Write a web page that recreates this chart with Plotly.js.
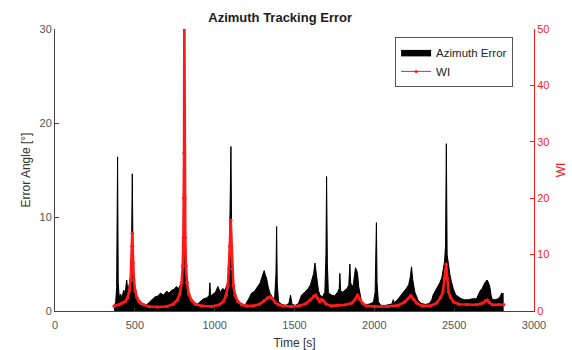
<!DOCTYPE html>
<html>
<head>
<meta charset="utf-8">
<script src="https://cdn.plot.ly/plotly-3.0.1.min.js"></script>
<style>html,body{margin:0;padding:0;background:#fff;}#chart{width:572px;height:350px;}</style>
</head>
<body>
<div id="chart"></div>
<script>
// Azimuth error [deg] vs time [s]
const errTime = [370,375,380,386,392,396,402,410,420,430,440,449,455,462,470,478,484,490,496,505,515,530,550,570,590,610,626,645,660,680,700,715,730,745,760,775,783,795,803,810,817,826,840,855,870,890,910,930,950,965,970,975,990,1005,1020,1035,1050,1064,1078,1090,1096,1102,1108,1116,1125,1140,1160,1190,1210,1231,1250,1272,1285,1294,1303,1310,1318,1325,1335,1346,1360,1375,1384,1388,1392,1400,1420,1445,1465,1475,1485,1505,1525,1544,1565,1586,1600,1611,1620,1628,1634,1640,1650,1659,1675,1690,1697,1701,1706,1712,1730,1750,1770,1780,1784,1789,1800,1815,1830,1840,1847,1852,1860,1868,1876,1882,1890,1895,1902,1910,1920,1935,1960,1980,1995,2005,2010,2013,2017,2025,2040,2070,2100,2112,2118,2125,2145,2170,2185,2200,2215,2225,2233,2240,2254,2275,2295,2320,2345,2360,2368,2385,2400,2410,2422,2431,2440,2446,2451,2456,2463,2473,2483,2494,2510,2525,2545,2565,2590,2615,2640,2661,2675,2692,2707,2715,2723,2732,2740,2755,2776,2790,2797,2805,2810];
const errValue = [0.3,0.6,1.0,2.5,16.4,3.0,1.5,1.8,1.5,2.2,2.0,3.3,2.4,2.6,3.2,4.5,14.6,4.0,2.0,1.4,1.0,0.7,0.5,0.6,0.9,1.3,1.5,1.6,1.9,1.7,2.1,1.9,2.2,2.3,2.6,2.4,2.7,3.2,5.1,8.0,5.0,2.5,1.5,1.0,0.7,0.7,1.0,1.3,1.4,1.6,3.0,1.6,1.8,2.0,2.6,2.0,2.4,2.2,2.8,4.5,10.5,17.5,5.0,2.5,1.4,1.0,0.7,0.6,1.2,1.9,2.1,2.6,3.0,3.5,3.9,4.3,3.8,3.5,2.6,1.9,1.5,1.2,4.0,9.0,3.0,1.0,0.7,0.6,0.8,1.7,0.7,0.6,0.8,1.7,2.0,2.4,2.8,3.5,4.0,5.1,3.8,3.5,2.2,1.7,1.5,2.0,6.0,14.3,5.0,2.0,1.7,1.6,2.0,2.4,4.0,2.2,2.0,2.2,2.4,2.8,5.0,3.0,2.6,2.8,3.6,4.6,4.3,4.0,2.6,1.7,1.0,0.7,0.7,0.8,1.0,2.0,6.0,9.4,3.0,1.0,0.6,0.6,0.7,0.8,1.2,0.9,1.2,1.7,2.0,2.4,2.8,3.6,4.7,3.4,2.0,1.1,0.8,0.7,0.8,1.2,1.7,2.2,2.7,3.0,3.5,4.3,5.3,7.0,17.8,6.0,5.0,3.9,3.1,2.4,1.7,1.5,1.3,1.2,1.2,1.3,1.3,2.1,2.4,3.0,3.3,3.0,2.6,1.6,1.2,1.2,1.3,1.6,1.9,1.8,1.9];

// WI vs time [s]
const wiTime = [370,400,420,440,455,466,474,479,482,484,486,489,494,502,513,530,555,590,640,700,740,765,782,793,800,804,807,808.5,810,811.5,813,816,820,827,838,855,880,920,980,1030,1055,1072,1083,1090,1095,1100,1105,1110,1117,1128,1145,1170,1200,1240,1280,1310,1330,1346,1362,1380,1400,1430,1480,1530,1570,1600,1620,1632,1645,1657,1669,1680,1700,1730,1770,1820,1860,1878,1895,1910,1925,1950,2000,2080,2150,2190,2212,2229,2245,2265,2300,2350,2390,2415,2430,2440,2450,2457,2465,2477,2497,2530,2580,2640,2680,2697,2707,2720,2740,2780,2810];
const wiValue = [0.9,1.1,1.4,1.7,2.4,3.6,5.5,8.5,11.5,13.8,11.5,8.5,5.5,3.6,2.4,1.6,1.1,0.8,0.7,0.8,1.2,1.9,3.0,5.0,8.0,13,20,28,50,28,20,13,8.0,5.0,3.0,1.9,1.2,0.9,0.8,1.1,1.7,2.8,4.5,7.5,11.5,16.1,11.5,7.5,4.5,2.8,1.7,1.1,0.9,0.9,1.2,1.8,2.3,2.5,2.2,1.5,1.1,0.9,0.8,0.9,1.3,2.0,2.6,2.8,2.2,1.7,2.0,1.8,1.2,0.9,1.0,1.1,1.4,2.0,2.8,2.0,1.4,0.9,0.8,0.8,1.0,1.6,2.2,2.7,2.1,1.4,0.9,0.9,1.4,2.4,3.4,5.8,8.3,5.8,3.4,2.4,1.6,1.2,1.1,1.1,1.4,1.8,1.9,1.5,1.1,1.1,1.1];

const seriesNames = ['Azimuth Error', 'WI'];
const xTickVals = [0,500,1000,1500,2000,2500,3000];
const yLeftTicks = [0,10,20,30];
const yRightTicks = [0,10,20,30,40,50];

const FONT = 'Liberation Sans, Arial, sans-serif';
const GRAY = '#555555';
const RED = '#ff1a1a';

const traces = [
  {
    x: errTime, y: errValue, name: seriesNames[0], type: 'scatter', mode: 'lines',
    fill: 'tozeroy', fillcolor: '#000000', line: {color: '#000000', width: 1},
    xaxis: 'x', yaxis: 'y', showlegend: false
  },
  {
    x: wiTime, y: wiValue, name: seriesNames[1], type: 'scatter', mode: 'lines+markers',
    line: {color: RED, width: 2.6}, marker: {color: RED, size: 3.5},
    xaxis: 'x', yaxis: 'y2', showlegend: false
  },
  // legend-only entries (thin styles like the reference key)
  {
    x: [null], y: [null], name: seriesNames[0], type: 'scatter', mode: 'lines',
    fill: 'tozeroy', fillcolor: '#000000', line: {color: '#000000', width: 1},
    xaxis: 'x', yaxis: 'y', showlegend: true
  },
  {
    x: [null], y: [null], name: seriesNames[1], type: 'scatter', mode: 'lines+markers',
    line: {color: RED, width: 1}, marker: {color: RED, size: 3},
    xaxis: 'x', yaxis: 'y2', showlegend: true
  }
];

const layout = {
  width: 572, height: 350,
  margin: {l: 55, r: 38, t: 29, b: 39},
  paper_bgcolor: '#ffffff', plot_bgcolor: '#ffffff',
  font: {family: FONT, size: 11, color: GRAY},
  showlegend: true,
  title: {text: 'Azimuth Tracking Error', font: {family: FONT, size: 13, color: '#1a1a1a', weight: 'bold'},
          x: 0.47, xref: 'paper', xanchor: 'center', y: 0.951, yref: 'container', yanchor: 'middle'},
  xaxis: {
    range: [0, 3000], tickvals: xTickVals, ticktext: xTickVals.map(String),
    showline: true, linecolor: '#444', linewidth: 1, mirror: false,
    ticks: 'inside', ticklen: 3, tickcolor: '#444',
    showgrid: false, zeroline: false, automargin: false,
    tickfont: {size: 11, color: GRAY}, ticklabelstandoff: 4,
    title: {text: 'Time [s]', font: {size: 12, color: '#333'}, standoff: 8}
  },
  yaxis: {
    range: [0, 30], tickvals: yLeftTicks, ticktext: yLeftTicks.map(String),
    showline: true, linecolor: '#444', linewidth: 1,
    ticks: 'inside', ticklen: 4, tickcolor: '#444',
    showgrid: false, zeroline: false, automargin: false,
    tickfont: {size: 11, color: GRAY},
    title: {text: 'Error Angle [°]', font: {size: 12, color: '#333'}, standoff: 6}
  },
  yaxis2: {
    overlaying: 'y', side: 'right', anchor: 'x',
    range: [0, 50], tickvals: yRightTicks, ticktext: yRightTicks.map(String),
    showline: true, linecolor: RED, linewidth: 1,
    ticks: 'inside', ticklen: 4, tickcolor: RED,
    showgrid: false, zeroline: false, automargin: false,
    tickfont: {size: 11, color: RED},
    title: {text: 'WI', font: {size: 12, color: RED}, standoff: 8}
  },
  legend: {
    x: 0.71, y: 0.972, xanchor: 'left', yanchor: 'top',
    bgcolor: '#ffffff', bordercolor: '#555', borderwidth: 1,
    font: {family: FONT, size: 11.5, color: '#222'},
    tracegroupgap: 0
  }
};

Plotly.newPlot('chart', traces, layout, {displayModeBar: false, staticPlot: true});
</script>
</body>
</html>
